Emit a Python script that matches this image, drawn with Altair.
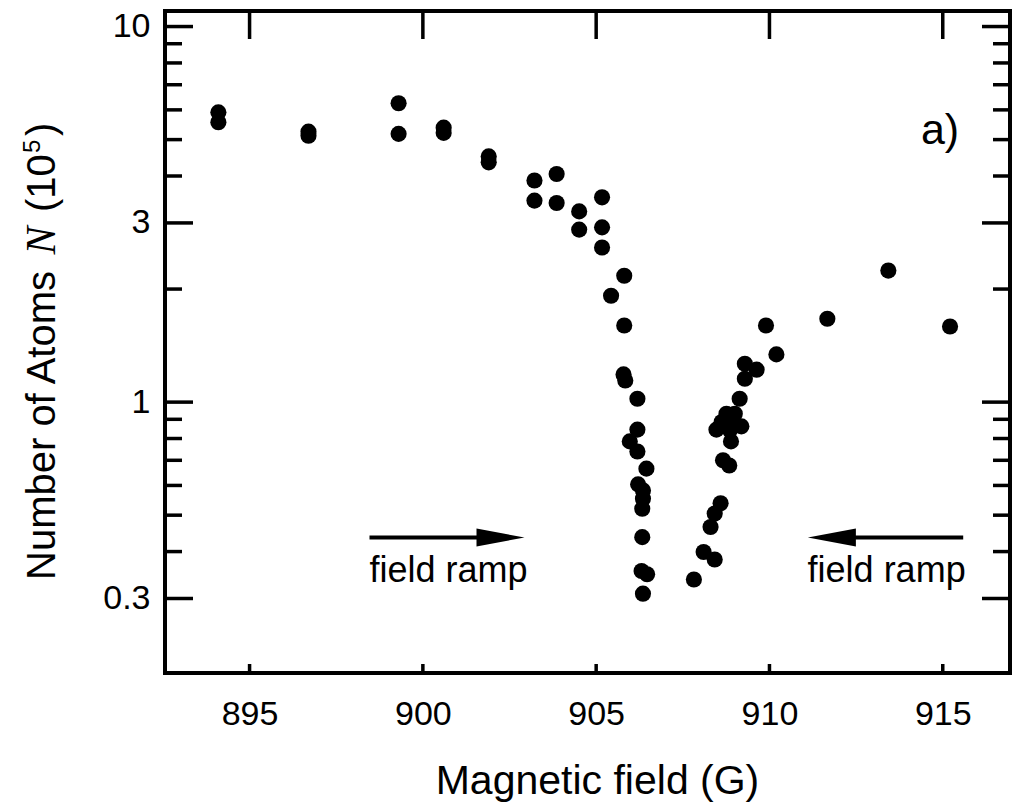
import altair as alt
import pandas as pd

# ---- data ----
field_G = [894.1, 894.1, 896.7, 896.7, 899.3, 899.3, 900.6, 900.6, 901.9, 901.9,
           903.22, 903.22, 903.86, 903.86, 904.51, 904.51, 905.17, 905.17, 905.17,
           905.43, 905.81, 905.81, 905.79, 905.84,
           906.19, 906.19, 905.97, 906.19, 906.45, 906.21, 906.35, 906.35, 906.33,
           906.33, 906.31, 906.47, 906.35,
           907.82, 908.10, 908.42, 908.30, 908.42, 908.59, 908.66, 908.84,
           908.47, 908.62, 908.76, 908.91, 909.00, 909.19, 908.86, 908.89,
           909.14, 909.29, 909.29, 909.63, 909.90, 910.20, 911.67, 913.43, 915.21]
atoms_1e5 = [5.91, 5.56, 5.25, 5.12, 6.25, 5.18, 5.38, 5.21, 4.51, 4.35,
             3.89, 3.44, 4.05, 3.39, 3.22, 2.88, 3.51, 2.92, 2.58,
             1.92, 2.17, 1.60, 1.185, 1.142,
             1.021, 0.845, 0.786, 0.739, 0.665, 0.604, 0.582, 0.553, 0.520,
             0.437, 0.355, 0.348, 0.309,
             0.337, 0.399, 0.381, 0.465, 0.505, 0.538, 0.700, 0.678,
             0.845, 0.885, 0.931, 0.903, 0.931, 0.862, 0.841, 0.786,
             1.021, 1.154, 1.265, 1.220, 1.60, 1.34, 1.667, 2.24, 1.59]

x_ticks = [895, 900, 905, 910, 915]
y_major = [0.3, 1, 3, 10]
y_minor = [0.4, 0.5, 0.6, 0.7, 0.8, 0.9, 2, 4, 5, 6, 7, 8, 9]

# annotations (data coordinates)
arrow_lines = {"B": [898.46, 912.0], "B2": [901.6, 915.59], "N": [0.436, 0.436]}
arrow_heads_right = {"B": [902.24], "N": [0.436]}
arrow_heads_left = {"B": [911.80], "N": [0.436]}
ramp_labels = {"B": [898.46, 911.10], "N": [0.331, 0.331], "t": ["field ramp", "field ramp"]}
panel_label = {"B": [914.37], "N": [4.88], "t": ["a)"]}

W, H = 845, 662
FONT = "Liberation Sans"

xs = alt.Scale(domain=[892.56, 916.94], nice=False, zero=False)
ys = alt.Scale(type="log", domain=[0.19, 11], nice=False)

pts = pd.DataFrame({"B": field_G, "N": atoms_1e5})

points = alt.Chart(pts).mark_circle(size=260, color="black", opacity=1).encode(
    x=alt.X("B:Q", scale=xs, axis=alt.Axis(
        values=x_ticks, title="Magnetic field (G)", grid=False, domain=False,
        ticks=False, tickSize=0, labelFont=FONT, labelFontSize=34,
        labelColor="black", labelBaseline="alphabetic", labelPadding=51,
        titleFont=FONT, titleFontSize=41, titleFontWeight="normal",
        titleColor="black", titleBaseline="alphabetic", titleX=432, titleY=120,
        titleAlign="center")),
    y=alt.Y("N:Q", scale=ys, axis=alt.Axis(
        values=y_major, format="~g", title="", grid=False, domain=False,
        ticks=False, tickSize=0, labelFont=FONT, labelFontSize=34,
        labelColor="black", labelPadding=15)),
)

def yticks(vals, length, side):
    df = pd.DataFrame({"N": vals})
    if side == "left":
        xe, x2e = alt.value(0), alt.value(length)
    else:
        xe, x2e = alt.value(W - length), alt.value(W)
    return alt.Chart(df).mark_rule(color="black", strokeWidth=3.5).encode(
        y=alt.Y("N:Q", scale=ys), x=xe, x2=x2e)

def xticks(vals, length, side):
    df = pd.DataFrame({"B": vals})
    if side == "top":
        ye, y2e = alt.value(0), alt.value(length)
    else:
        ye, y2e = alt.value(H - length), alt.value(H)
    return alt.Chart(df).mark_rule(color="black", strokeWidth=3.5).encode(
        x=alt.X("B:Q", scale=xs), y=ye, y2=y2e)

ticks = [
    yticks(y_major, 28, "left"), yticks(y_minor, 17, "left"),
    yticks(y_major, 28, "right"), yticks(y_minor, 17, "right"),
    xticks(x_ticks, 28, "top"), xticks(x_ticks, 9, "bottom"),
]

enc_xy = dict(x=alt.X("B:Q", scale=xs), y=alt.Y("N:Q", scale=ys))

lines = alt.Chart(pd.DataFrame(arrow_lines)).mark_rule(color="black", strokeWidth=4).encode(
    x2="B2:Q", **enc_xy)
head_r = alt.Chart(pd.DataFrame(arrow_heads_right)).mark_point(
    shape="M-1,-0.375L1,0L-1,0.375Z", size=2304, filled=True, color="black", opacity=1,
    strokeWidth=0).encode(**enc_xy)
head_l = alt.Chart(pd.DataFrame(arrow_heads_left)).mark_point(
    shape="M1,-0.375L-1,0L1,0.375Z", size=2304, filled=True, color="black", opacity=1,
    strokeWidth=0).encode(**enc_xy)
ramp = alt.Chart(pd.DataFrame(ramp_labels)).mark_text(
    font=FONT, fontSize=36, align="left", baseline="alphabetic", color="black").encode(
    text="t:N", **enc_xy)
panel = alt.Chart(pd.DataFrame(panel_label)).mark_text(
    font=FONT, fontSize=43, align="left", baseline="alphabetic", color="black").encode(
    text="t:N", **enc_xy)

# ---- rotated y title built from pieces (italic N, superscript 5) ----
F = 40
title_parts = []
ypos = 580 - 11
xb = 55 - 165
pieces = [
    ("Number of Atoms", FONT, F, "normal", 7.78 * F + 0.36 * F, 0),
    ("N", "Liberation Serif", F + 2, "italic", 0.667 * (F + 2) + 0.36 * F, 0),
    ("(10", FONT, F, "normal", 1.445 * F + 0.03 * F, 0),
    ("5", FONT, int(F * 0.62), "normal", 0.556 * F * 0.62 + 0.08 * F, -0.38 * F),
    (")", FONT, F, "normal", 0.333 * F, 0),
]
for txt, fnt, fs, style, adv, shift in pieces:
    title_parts.append(
        alt.Chart(pd.DataFrame({"t": [txt]})).mark_text(
            font=fnt, fontSize=fs, fontStyle=style, angle=270, align="left",
            baseline="alphabetic", color="black").encode(
            x=alt.value(xb + shift), y=alt.value(ypos), text="t:N"))
    ypos -= adv

chart = alt.layer(points, *ticks, lines, head_r, head_l, ramp, panel, *title_parts).properties(
    width=W, height=H,
    autosize=alt.AutoSizeParams(type="none"),
    padding={"left": 165, "top": 11, "right": 18, "bottom": 138},
    background="white",
).configure_view(stroke="black", strokeWidth=4)

chart.save("out.html", embed_options={"renderer": "svg", "actions": False})
